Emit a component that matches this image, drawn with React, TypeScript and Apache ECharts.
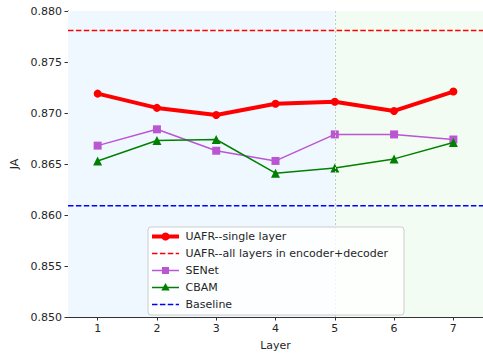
import React, { useEffect, useRef } from "react";
import * as echarts from "echarts";

const layers = [1, 2, 3, 4, 5, 6, 7];
const uafrSingle = [0.8719, 0.8705, 0.8698, 0.8709, 0.8711, 0.8702, 0.8721];
const senet = [0.8668, 0.8684, 0.8663, 0.8653, 0.8679, 0.8679, 0.8674];
const cbam = [0.8653, 0.8673, 0.8674, 0.8641, 0.8646, 0.8655, 0.8671];
const uafrAll = 0.8781;
const baseline = 0.8609;
const splitLayer = 5;
const xRange = [0.5, 7.5];
const legendNames = [
  "UAFR--single layer",
  "UAFR--all layers in encoder+decoder",
  "SENet",
  "CBAM",
  "Baseline",
];

const FONT = "DejaVu Sans";
const TXT = "#262626";

export default function App() {
  const ref = useRef<HTMLDivElement>(null);
  useEffect(() => {
    if (!ref.current) return;
    const chart = echarts.init(ref.current, null, { renderer: "svg" });
    const pair = (arr: number[]) => layers.map((x, i) => [x, arr[i]]);
    const hline = (v: number) => xRange.map((x) => [x, v]);

    const lx = 148, ly = 227, lw = 256, lh = 88;
    const rowY = (i: number) => ly + 9.5 + i * 17;
    const hx1 = 152, hx2 = 179, hmid = (hx1 + hx2) / 2;
    const legendGraphics: any[] = [
      {
        type: "rect",
        shape: { x: lx, y: ly, width: lw, height: lh, r: 3 },
        style: { fill: "rgba(255,255,255,0.8)", stroke: "#cccccc", lineWidth: 1 },
        z: 100,
      },
      { type: "line", shape: { x1: hx1, y1: rowY(0), x2: hx2, y2: rowY(0) }, style: { stroke: "#ff0000", lineWidth: 4 }, z: 101 },
      { type: "circle", shape: { cx: hmid, cy: rowY(0), r: 4 }, style: { fill: "#ff0000" }, z: 102 },
      { type: "line", shape: { x1: hx1, y1: rowY(1), x2: hx2, y2: rowY(1) }, style: { stroke: "#ff0000", lineWidth: 1.5, lineDash: [5.5, 2.4] }, z: 101 },
      { type: "line", shape: { x1: hx1, y1: rowY(2), x2: hx2, y2: rowY(2) }, style: { stroke: "#ba55d3", lineWidth: 1.5 }, z: 101 },
      { type: "rect", shape: { x: hmid - 3.5, y: rowY(2) - 3.5, width: 7, height: 7 }, style: { fill: "#ba55d3" }, z: 102 },
      { type: "line", shape: { x1: hx1, y1: rowY(3), x2: hx2, y2: rowY(3) }, style: { stroke: "#008000", lineWidth: 1.5 }, z: 101 },
      { type: "polygon", shape: { points: [[hmid, rowY(3) - 4.5], [hmid + 4.2, rowY(3) + 3], [hmid - 4.2, rowY(3) + 3]] }, style: { fill: "#008000" }, z: 102 },
      { type: "line", shape: { x1: hx1, y1: rowY(4), x2: hx2, y2: rowY(4) }, style: { stroke: "#0000ff", lineWidth: 1.5, lineDash: [5.5, 2.4] }, z: 101 },
      ...legendNames.map((n, i) => ({
        type: "text",
        x: 185.5,
        y: rowY(i),
        style: { text: n, fill: TXT, font: `11px "${FONT}"`, verticalAlign: "middle", align: "left" },
        z: 103,
      })),
    ];

    chart.setOption({
      animation: false,
      backgroundColor: "#ffffff",
      textStyle: { fontFamily: FONT },
      grid: { left: 68, top: 11, width: 416, height: 309.3, containLabel: false },
      xAxis: {
        type: "value",
        min: xRange[0],
        max: xRange[1],
        name: "Layer",
        nameLocation: "middle",
        nameGap: 23,
        nameTextStyle: { color: TXT, fontSize: 11, fontFamily: FONT },
        axisLine: { show: true, onZero: false, lineStyle: { color: "#333333", width: 1 } },
        axisTick: { show: true, length: 3.5, lineStyle: { color: "#333333" }, customValues: layers },
        axisLabel: { color: TXT, fontSize: 11, fontFamily: FONT, margin: 6, customValues: layers, formatter: (v: number) => String(v) },
        splitLine: { show: false },
      },
      yAxis: {
        type: "value",
        min: 0.85,
        max: 0.88,
        interval: 0.005,
        name: "JA",
        nameLocation: "middle",
        nameGap: 48,
        nameTextStyle: { color: TXT, fontSize: 11, fontFamily: FONT },
        axisLine: { show: true, lineStyle: { color: "#333333", width: 1 } },
        axisTick: { show: true, length: 3.5, lineStyle: { color: "#333333" } },
        axisLabel: { color: TXT, fontSize: 11, fontFamily: FONT, margin: 6, formatter: (v: number) => v.toFixed(3) },
        splitLine: { show: false },
      },
      series: [
        {
          type: "line",
          name: "bg",
          data: [],
          silent: true,
          markArea: {
            silent: true,
            data: [
              [{ xAxis: xRange[0], itemStyle: { color: "#f0f8ff" } }, { xAxis: splitLayer }],
              [{ xAxis: splitLayer, itemStyle: { color: "#f2fcf2" } }, { xAxis: xRange[1] }],
            ],
          },
          markLine: {
            silent: true,
            symbol: "none",
            precision: 4,
            label: { show: false },
            data: [
              { xAxis: splitLayer, lineStyle: { color: "#c8c8c8", width: 1, type: [2, 2] } },
            ],
          },
        },
        {
          type: "line",
          name: "UAFR--all layers in encoder+decoder",
          data: hline(uafrAll),
          symbol: "none",
          silent: true,
          lineStyle: { color: "#ff0000", width: 1.5, type: [5.5, 2.4] },
          z: 2,
        },
        {
          type: "line",
          name: "Baseline",
          data: hline(baseline),
          symbol: "none",
          silent: true,
          lineStyle: { color: "#0000ff", width: 1.5, type: [5.5, 2.4] },
          z: 2,
        },
        {
          type: "line",
          name: "SENet",
          data: pair(senet),
          symbol: "rect",
          symbolSize: 8,
          lineStyle: { color: "#ba55d3", width: 1.5 },
          itemStyle: { color: "#ba55d3" },
          z: 3,
        },
        {
          type: "line",
          name: "CBAM",
          data: pair(cbam),
          symbol: "triangle",
          symbolSize: 9,
          lineStyle: { color: "#008000", width: 1.5 },
          itemStyle: { color: "#008000" },
          z: 4,
        },
        {
          type: "line",
          name: "UAFR--single layer",
          data: pair(uafrSingle),
          symbol: "circle",
          symbolSize: 8,
          lineStyle: { color: "#ff0000", width: 4 },
          itemStyle: { color: "#ff0000" },
          z: 5,
        },
      ],
      graphic: legendGraphics,
    });
    return () => chart.dispose();
  }, []);
  return <div ref={ref} style={{ width: 483, height: 356, position: "absolute", left: 0, top: 0 }} />;
}
